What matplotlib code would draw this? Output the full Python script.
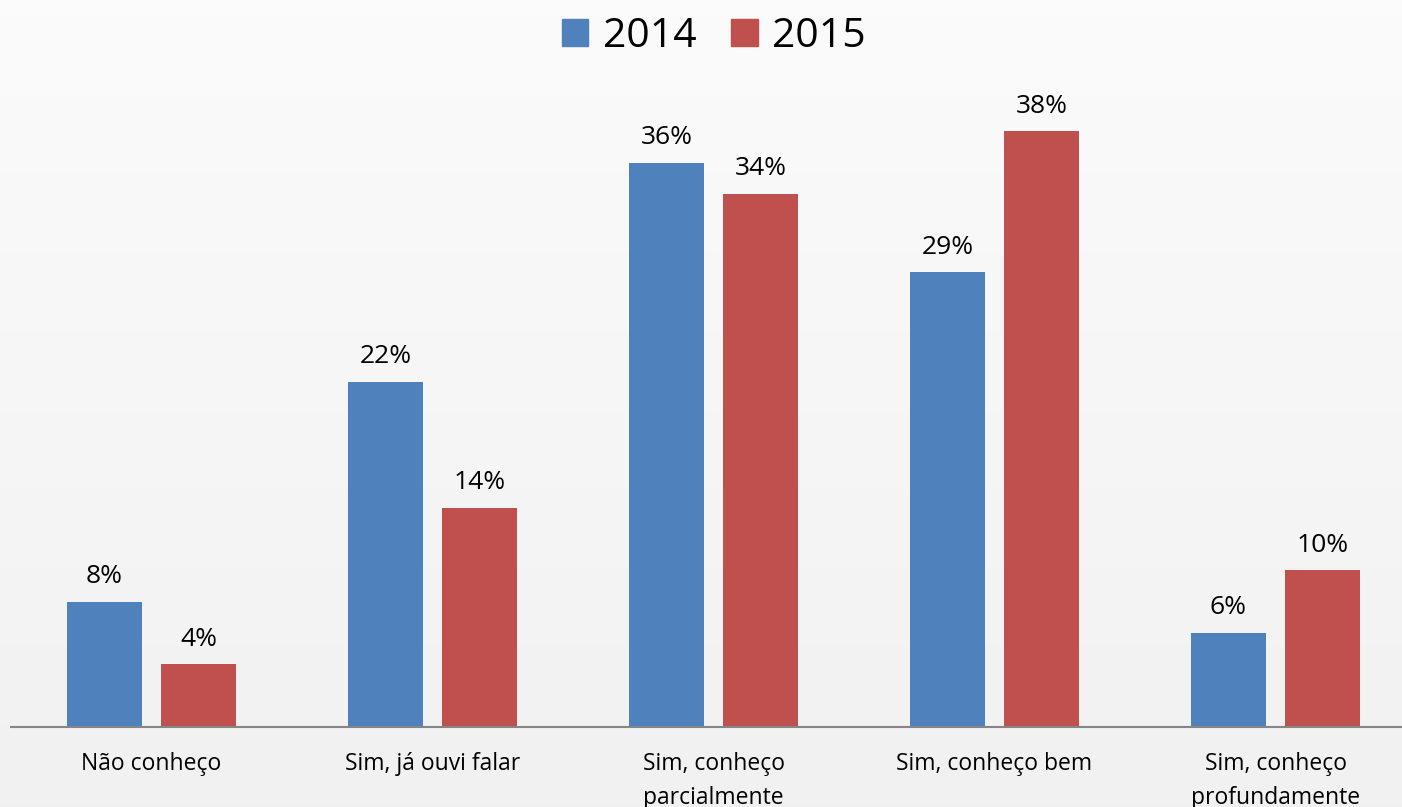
import matplotlib
matplotlib.use("Agg")
import matplotlib.pyplot as plt
from matplotlib.patches import Patch
import numpy as np

categories = ["Não conheço", "Sim, já ouvi falar", "Sim, conheço\nparcialmente",
              "Sim, conheço bem", "Sim, conheço\nprofundamente"]
series_names = ["2014", "2015"]
values_2014 = [8, 22, 36, 29, 6]
values_2015 = [4, 14, 34, 38, 10]
colors = ["#4F81BD", "#C0504D"]

plt.rcParams['font.family'] = ['Open Sans', 'DejaVu Sans']

W, H = 1402, 807
fig = plt.figure(figsize=(W / 100, H / 100), dpi=100)

# background gradient
bg = fig.add_axes([0, 0, 1, 1], zorder=-10)
grad = np.linspace(0, 1, 256).reshape(-1, 1)
top = np.array([0.985, 0.985, 0.985])
bot = np.array([0.945, 0.945, 0.945])
img = top + (bot - top) * grad[:, :, None]
bg.imshow(img, aspect='auto', extent=[0, 1, 0, 1], origin='upper')
bg.axis('off')

ax = fig.add_axes([11 / W, (H - 727) / H, 1405 / W, 627 / H])
ax.set_facecolor('none')

x = np.arange(len(categories))
bw = 0.267
off = 0.1675
b1 = ax.bar(x - off, values_2014, bw, color=colors[0], label=series_names[0])
b2 = ax.bar(x + off, values_2015, bw, color=colors[1], label=series_names[1])

for bars, vals in ((b1, values_2014), (b2, values_2015)):
    for rect, v in zip(bars, vals):
        ax.annotate(f"{v}%", (rect.get_x() + rect.get_width() / 2, rect.get_height()),
                    xytext=(0, 13.5), textcoords='offset points', ha='center', va='baseline',
                    fontsize=19, color='black')

ax.set_xlim(-0.5, len(categories) - 0.5)
ax.set_ylim(0, 40)
ax.set_xticks(x)
ax.set_xticklabels(categories, fontsize=16.5, linespacing=1.55)
ax.tick_params(axis='x', length=0, pad=18)
ax.set_yticks([])
for s in ['top', 'right', 'left']:
    ax.spines[s].set_visible(False)
ax.spines['bottom'].set_color('#868686')
ax.spines['bottom'].set_linewidth(1.5)

handles = [Patch(color=colors[0]), Patch(color=colors[1])]
fig.legend(handles, series_names, loc='upper center', bbox_to_anchor=(0.509, 1.025), ncol=2,
           frameon=False, fontsize=29.5, handlelength=0.65, handleheight=0.65,
           handletextpad=0.35, columnspacing=0.85)

fig.savefig("out.png", dpi=100)
